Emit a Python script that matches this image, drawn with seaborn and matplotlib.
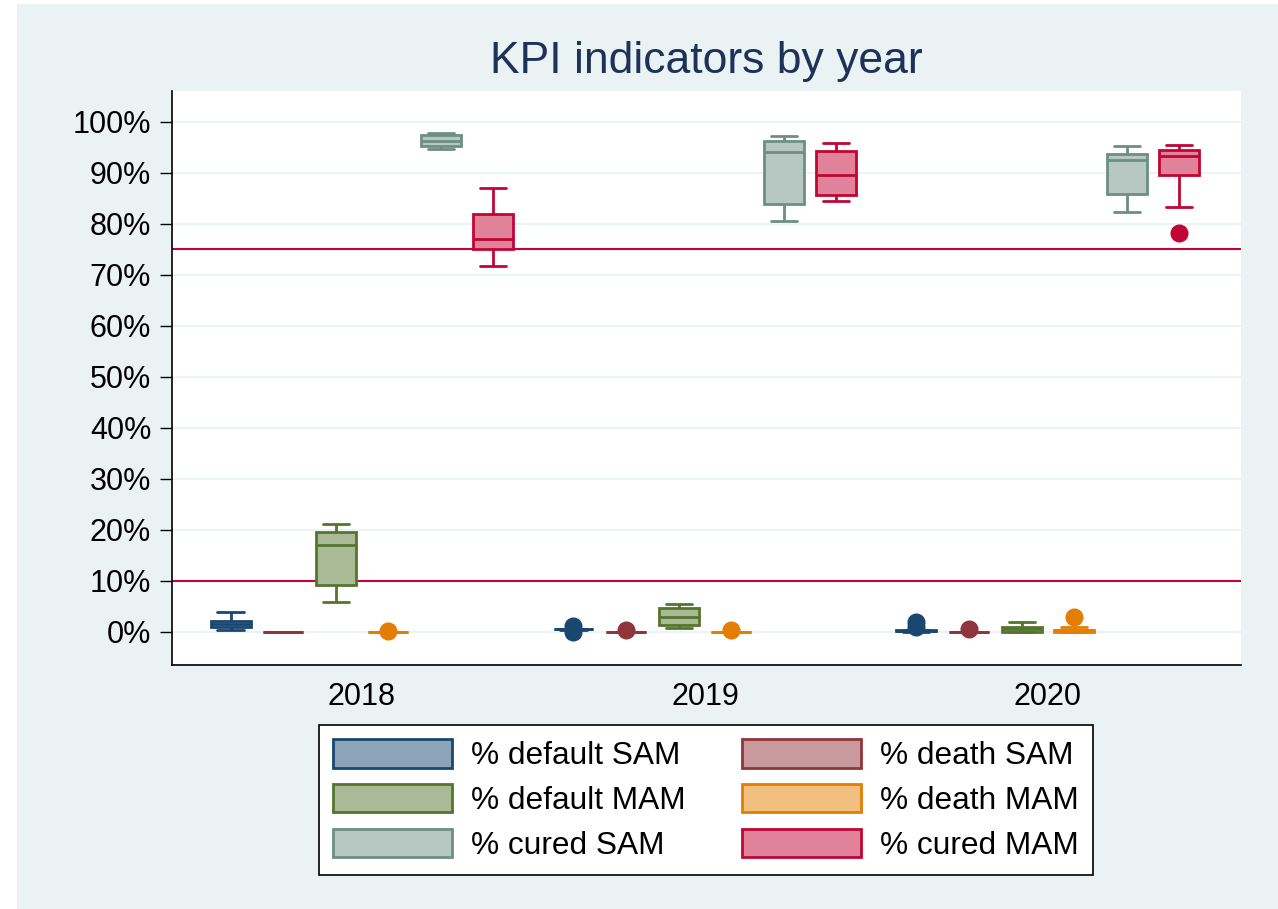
import matplotlib
matplotlib.use("Agg")
import pandas as pd
import seaborn as sns
import matplotlib.pyplot as plt
from matplotlib.patches import Patch, Rectangle
from matplotlib.colors import to_rgb

# values in percent, one list of observations per year
years = ["2018", "2019", "2020"]
indicators = ["% default SAM", "% death SAM", "% default MAM",
              "% death MAM", "% cured SAM", "% cured MAM"]

default_sam = {
    "2018": [0.3, 1.0, 1.6, 2.2, 3.9],
    "2019": [0.0, 0.45, 0.5, 0.5, 0.5, 0.55, 0.6, 0.6, 1.2],
    "2020": [0.0, 0.0, 0.1, 0.2, 0.2, 0.3, 0.3, 1.0, 2.0],
}
death_sam = {
    "2018": [0.0, 0.0, 0.0, 0.0, 0.0],
    "2019": [0.0, 0.0, 0.0, 0.0, 0.0, 0.0, 0.0, 0.0, 0.4],
    "2020": [0.0, 0.0, 0.0, 0.0, 0.0, 0.0, 0.0, 0.0, 0.5],
}
default_mam = {
    "2018": [5.8, 9.1, 17.1, 19.5, 21.1],
    "2019": [0.7, 1.4, 2.9, 4.6, 5.5],
    "2020": [0.0, 0.0, 0.6, 0.9, 1.9],
}
death_mam = {
    "2018": [0.0, 0.0, 0.0, 0.0, 0.0, 0.0, 0.0, 0.0, 0.1],
    "2019": [0.0, 0.0, 0.0, 0.0, 0.0, 0.0, 0.0, 0.0, 0.45],
    "2020": [0.0, 0.0, 0.0, 0.1, 0.3, 0.35, 0.4, 0.95, 3.0],
}
cured_sam = {
    "2018": [94.6, 95.3, 96.3, 97.4, 97.9],
    "2019": [80.6, 83.9, 94.0, 96.3, 97.3],
    "2020": [82.3, 85.9, 92.5, 93.7, 95.2],
}
cured_mam = {
    "2018": [71.8, 75.0, 77.1, 82.0, 87.0],
    "2019": [84.4, 85.7, 89.6, 94.2, 95.9],
    "2020": [78.2, 83.2, 89.6, 91.5, 93.2, 94.0, 94.5, 95.0, 95.5],
}
ref_lines = [75, 10]

# stata s2color look
edge_colors = ["#1a476f", "#90353b", "#55752f", "#e37e00", "#6e8e84", "#c10534"]
fill_colors = [tuple((c + 1) / 2 for c in to_rgb(e)) for e in edge_colors]
bg = "#eaf2f3"

rows = []
for name, series in zip(indicators, [default_sam, death_sam, default_mam,
                                     death_mam, cured_sam, cured_mam]):
    for year, vals in series.items():
        for v in vals:
            rows.append((year, name, v))
df = pd.DataFrame(rows, columns=["year", "indicator", "value"])

sns.set_theme(style="white")
plt.rcParams["font.family"] = ["Liberation Sans", "DejaVu Sans"]
plt.rcParams["text.color"] = "black"

fig = plt.figure(figsize=(12.78, 9.09), dpi=100)
fig.patch.set_facecolor("white")
fig.patches.append(Rectangle((17 / 1278, 0), 1, 1 - 4 / 909, transform=fig.transFigure,
                             facecolor=bg, edgecolor="none", zorder=-1))
ax = fig.add_axes([172 / 1278, 1 - 665 / 909, (1241 - 172) / 1278, (665 - 90.7) / 909])
ax.set_facecolor("white")

palette = dict(zip(indicators, fill_colors))
for name, edge in zip(indicators, edge_colors):
    sns.boxplot(data=df[df["indicator"] == name], x="year", y="value",
                hue="indicator", hue_order=indicators, order=years,
                palette=palette, saturation=1, width=0.92, gap=0.24, dodge=True,
                linecolor=edge, linewidth=2.0, whis=1.5, fliersize=12,
                flierprops=dict(marker="o", markerfacecolor=edge, markeredgecolor=edge),
                capwidths=0.076, legend=False, ax=ax)

for v in ref_lines:
    ax.axhline(v, color="#c10534", lw=1.5, zorder=0.9)

ax.set_ylim(-6.5, 106.1)
ax.set_xlim(-0.554, 2.563)
ax.set_yticks(range(0, 101, 10))
ax.set_yticklabels([f"{v}%" for v in range(0, 101, 10)])
ax.yaxis.grid(True, color=bg, linewidth=1.3)
ax.set_axisbelow(True)
ax.set_xlabel("")
ax.set_ylabel("")
ax.tick_params(axis="y", labelsize=22, length=9, width=1, pad=6, left=True,
               color="black", labelcolor="black")
ax.tick_params(axis="x", labelsize=22, length=0, pad=12, labelcolor="black")
for side in ["top", "right"]:
    ax.spines[side].set_visible(False)
for side in ["left", "bottom"]:
    ax.spines[side].set_color("black")
    ax.spines[side].set_linewidth(1.2)

fig.text(706 / 1278, 1 - 62 / 909, "KPI indicators by year", ha="center", va="center",
         fontsize=32, color="#1e3158")

handles = [Patch(facecolor=f, edgecolor=e, linewidth=2.0, label=n)
           for n, e, f in zip(indicators, edge_colors, fill_colors)]
order = [0, 2, 4, 1, 3, 5]
leg = fig.legend([handles[i] for i in order], [indicators[i] for i in order],
                 ncol=2, loc="center", bbox_to_anchor=(706 / 1278, 1 - 800 / 909),
                 fontsize=22.8, frameon=True, fancybox=False, edgecolor="black",
                 framealpha=1, facecolor="white",
                 handlelength=3.75, handleheight=1.0, handletextpad=0.6,
                 columnspacing=1.8, labelspacing=0.4, borderpad=0.45)
leg.get_frame().set_linewidth(1.2)

fig.savefig("out.png", dpi=100)
